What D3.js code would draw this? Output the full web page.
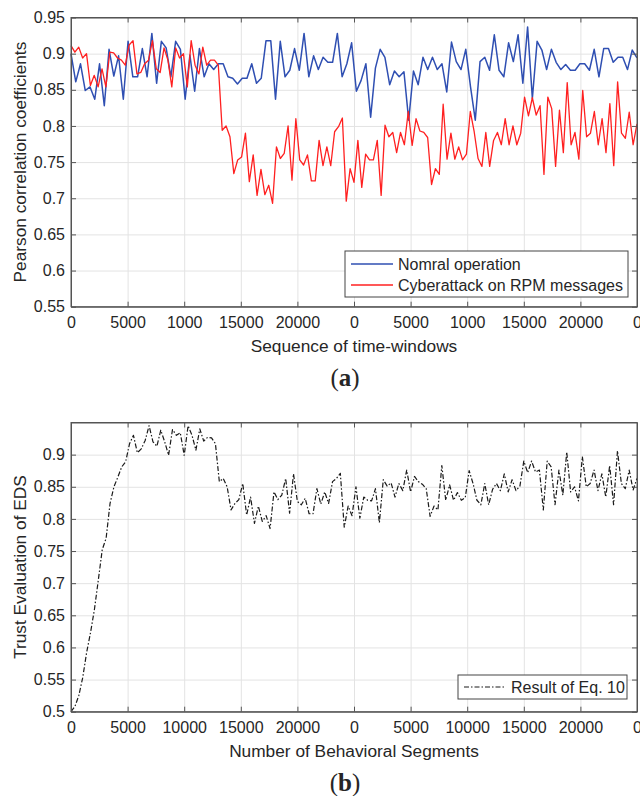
<!DOCTYPE html>
<html>
<head>
<meta charset="utf-8">
<script src="https://cdn.jsdelivr.net/npm/d3@7"></script>
<style>
  body { margin: 0; background: #fff; }
  svg { display: block; }
  text { fill: #262626; }
</style>
</head>
<body>
<svg id="chart" width="640" height="796"></svg>
<script>
// ---- data -------------------------------------------------------------
const xTickValues = [0, 5000, 10000, 15000, 20000, 25000, 30000, 35000, 40000, 45000, 50000];
const xTickLabelsA = ["0", "5000", "1000", "15000", "20000", "0", "5000", "1000", "15000", "20000", "0"];
const xTickLabelsB = ["0", "5000", "10000", "15000", "20000", "0", "5000", "10000", "15000", "20000", "0"];
const yTicksA = [0.55, 0.6, 0.65, 0.7, 0.75, 0.8, 0.85, 0.9, 0.95];
const yTicksB = [0.5, 0.55, 0.6, 0.65, 0.7, 0.75, 0.8, 0.85, 0.9];

// Pearson correlation, normal operation
const normalOperation = [
  0.900, 0.861, 0.886, 0.849, 0.854, 0.837, 0.886, 0.828, 0.906, 0.869,
  0.897, 0.837, 0.917, 0.868, 0.868, 0.907, 0.868, 0.928, 0.859, 0.917,
  0.908, 0.868, 0.917, 0.906, 0.837, 0.898, 0.848, 0.907, 0.868, 0.886,
  0.878, 0.886, 0.886, 0.868, 0.866, 0.858, 0.866, 0.866, 0.886, 0.859,
  0.866, 0.918, 0.918, 0.837, 0.917, 0.868, 0.877, 0.907, 0.877, 0.928,
  0.868, 0.897, 0.878, 0.895, 0.888, 0.888, 0.928, 0.868, 0.886, 0.915,
  0.848, 0.863, 0.886, 0.812, 0.880, 0.906, 0.895, 0.857, 0.876, 0.868,
  0.875, 0.808, 0.876, 0.857, 0.895, 0.878, 0.895, 0.878, 0.886, 0.847,
  0.916, 0.889, 0.878, 0.906, 0.854, 0.808, 0.889, 0.895, 0.877, 0.926,
  0.877, 0.868, 0.915, 0.889, 0.926, 0.859, 0.937, 0.838, 0.917, 0.905,
  0.878, 0.906, 0.888, 0.878, 0.885, 0.877, 0.877, 0.886, 0.886, 0.877,
  0.906, 0.868, 0.907, 0.907, 0.888, 0.895, 0.895, 0.878, 0.905, 0.894
];

// Pearson correlation, cyberattack on RPM messages
const cyberattackRPM = [
  0.911, 0.902, 0.909, 0.894, 0.900, 0.856, 0.870, 0.854, 0.879, 0.854,
  0.902, 0.901, 0.894, 0.891, 0.884, 0.912, 0.918, 0.872, 0.874, 0.886,
  0.891, 0.918, 0.879, 0.874, 0.908, 0.891, 0.854, 0.908, 0.894, 0.900,
  0.854, 0.918, 0.884, 0.872, 0.909, 0.884, 0.891, 0.891, 0.884, 0.794,
  0.800, 0.785, 0.734, 0.753, 0.757, 0.790, 0.723, 0.760, 0.704, 0.740,
  0.705, 0.718, 0.693, 0.771, 0.755, 0.762, 0.800, 0.725, 0.810, 0.753,
  0.746, 0.760, 0.724, 0.724, 0.780, 0.745, 0.771, 0.745, 0.792, 0.799,
  0.811, 0.696, 0.741, 0.722, 0.780, 0.715, 0.761, 0.753, 0.753, 0.780,
  0.704, 0.801, 0.785, 0.791, 0.763, 0.791, 0.774, 0.820, 0.773, 0.810,
  0.793, 0.791, 0.784, 0.719, 0.741, 0.733, 0.830, 0.754, 0.790, 0.754,
  0.771, 0.753, 0.761, 0.820, 0.792, 0.755, 0.744, 0.791, 0.744, 0.780,
  0.791, 0.774, 0.810, 0.774, 0.800, 0.774, 0.790, 0.840, 0.814, 0.839,
  0.815, 0.828, 0.733, 0.840, 0.824, 0.744, 0.822, 0.763, 0.860, 0.774,
  0.791, 0.754, 0.849, 0.785, 0.790, 0.820, 0.774, 0.810, 0.763, 0.831,
  0.745, 0.861, 0.790, 0.783, 0.819, 0.774, 0.803
];

// Trust evaluation of EDS (Eq. 10)
const trustEvaluation = [
  0.500, 0.508, 0.525, 0.553, 0.592, 0.623, 0.659, 0.705, 0.752, 0.770,
  0.824, 0.850, 0.865, 0.881, 0.889, 0.917, 0.930, 0.903, 0.909, 0.922,
  0.945, 0.920, 0.913, 0.938, 0.920, 0.899, 0.939, 0.930, 0.934, 0.899,
  0.945, 0.930, 0.907, 0.940, 0.921, 0.927, 0.926, 0.917, 0.858, 0.863,
  0.850, 0.814, 0.824, 0.830, 0.855, 0.806, 0.834, 0.793, 0.820, 0.796,
  0.805, 0.785, 0.842, 0.830, 0.837, 0.863, 0.809, 0.870, 0.827, 0.822,
  0.832, 0.808, 0.808, 0.847, 0.823, 0.842, 0.824, 0.858, 0.863, 0.871,
  0.787, 0.820, 0.805, 0.850, 0.801, 0.834, 0.829, 0.828, 0.847, 0.794,
  0.861, 0.851, 0.856, 0.834, 0.855, 0.844, 0.876, 0.842, 0.866, 0.858,
  0.854, 0.847, 0.804, 0.820, 0.814, 0.883, 0.829, 0.853, 0.829, 0.841,
  0.829, 0.833, 0.875, 0.855, 0.829, 0.822, 0.855, 0.822, 0.846, 0.855,
  0.844, 0.870, 0.842, 0.861, 0.844, 0.851, 0.890, 0.872, 0.890, 0.873,
  0.876, 0.814, 0.890, 0.881, 0.822, 0.876, 0.837, 0.904, 0.842, 0.850,
  0.828, 0.897, 0.850, 0.855, 0.876, 0.844, 0.870, 0.834, 0.883, 0.822,
  0.906, 0.855, 0.847, 0.876, 0.845, 0.863
];

// ---- drawing ----------------------------------------------------------
const svg = d3.select("#chart");
const SANS = '"Liberation Sans", Arial, Helvetica, sans-serif';
const SERIF = '"Liberation Serif", "DejaVu Serif", serif';
const LEFT = 71, RIGHT = 637;
const X_MAX = 50000;

// spread a series evenly over the sequence axis
function toPoints(values) {
  const step = X_MAX / (values.length - 1);
  return values.map((v, i) => [i * step, v]);
}

function drawPanel(opts) {
  const g = svg.append("g").style("font-family", SANS);
  const x = d3.scaleLinear().domain([0, X_MAX]).range([LEFT, RIGHT]);
  const y = d3.scaleLinear().domain(opts.yDomain).range([opts.bottom, opts.top]);
  const h = opts.bottom - opts.top;

  // grid
  g.append("g").attr("transform", `translate(0,${opts.bottom})`)
    .call(d3.axisBottom(x).tickValues(xTickValues).tickSize(-h).tickFormat(""))
    .call(s => s.select(".domain").remove())
    .selectAll("line").attr("stroke", "#e3e3e3").attr("stroke-width", 1);
  g.append("g").attr("transform", `translate(${LEFT},0)`)
    .call(d3.axisLeft(y).tickValues(opts.yTicks).tickSize(-(RIGHT - LEFT)).tickFormat(""))
    .call(s => s.select(".domain").remove())
    .selectAll("line").attr("stroke", "#e3e3e3").attr("stroke-width", 1);

  // data lines
  const line = d3.line().x(d => x(d[0])).y(d => y(d[1]));
  opts.series.forEach(s => {
    g.append("path")
      .datum(toPoints(s.values))
      .attr("fill", "none")
      .attr("stroke", s.color)
      .attr("stroke-width", s.width)
      .attr("stroke-dasharray", s.dash || null)
      .attr("stroke-linejoin", "round")
      .attr("d", line);
  });

  // axes with inward ticks
  const axisColor = "#555";
  const styleAxis = s => {
    s.attr("font-family", null).attr("font-size", null);
    s.select(".domain").attr("stroke", axisColor);
    s.selectAll(".tick line").attr("stroke", axisColor);
    s.selectAll("text").style("font-size", "16px").style("fill", "#262626")
      .style("font-family", SANS);
  };
  g.append("g").attr("transform", `translate(0,${opts.bottom})`)
    .call(d3.axisBottom(x).tickValues(xTickValues)
      .tickFormat((d, i) => opts.xLabels[i]).tickSizeInner(-5).tickSizeOuter(0).tickPadding(10))
    .call(styleAxis);
  g.append("g").attr("transform", `translate(0,${opts.top})`)
    .call(d3.axisTop(x).tickValues(xTickValues).tickFormat("").tickSizeInner(-5).tickSizeOuter(0))
    .call(styleAxis);
  g.append("g").attr("transform", `translate(${LEFT},0)`)
    .call(d3.axisLeft(y).tickValues(opts.yTicks)
      .tickFormat(d => String(+d.toFixed(2))).tickSizeInner(-5).tickSizeOuter(0).tickPadding(6))
    .call(styleAxis);
  g.append("g").attr("transform", `translate(${RIGHT},0)`)
    .call(d3.axisRight(y).tickValues(opts.yTicks).tickFormat("").tickSizeInner(-5).tickSizeOuter(0))
    .call(styleAxis);

  // frame
  g.append("rect")
    .attr("x", LEFT).attr("y", opts.top)
    .attr("width", RIGHT - LEFT).attr("height", h)
    .attr("fill", "none").attr("stroke", axisColor).attr("stroke-width", 1);

  // axis titles
  g.append("text")
    .attr("x", (LEFT + RIGHT) / 2).attr("y", opts.bottom + 45)
    .attr("text-anchor", "middle").style("font-size", "17.3px")
    .text(opts.xTitle);
  g.append("text")
    .attr("transform", `translate(26,${(opts.top + opts.bottom) / 2}) rotate(-90)`)
    .attr("text-anchor", "middle").style("font-size", "17.3px")
    .text(opts.yTitle);

  // legend
  const L = opts.legend;
  g.append("rect")
    .attr("x", L.x).attr("y", L.y).attr("width", L.w).attr("height", L.h)
    .attr("fill", "#fff").attr("stroke", "#444").attr("stroke-width", 1);
  opts.series.forEach((s, i) => {
    const cy = L.y + L.pad + i * L.row;
    g.append("line")
      .attr("x1", L.x + 6).attr("x2", L.x + 48).attr("y1", cy).attr("y2", cy)
      .attr("stroke", s.color).attr("stroke-width", s.width)
      .attr("stroke-dasharray", s.dash || null);
    g.append("text")
      .attr("x", L.x + 53).attr("y", cy).attr("dy", "0.35em")
      .style("font-size", "16px").text(s.name);
  });

  // panel caption
  const cap = g.append("text")
    .attr("x", 345).attr("y", opts.bottom + 79)
    .attr("text-anchor", "middle")
    .style("font-size", "25px").style("font-family", SERIF);
  cap.append("tspan").text("(");
  cap.append("tspan").style("font-weight", "bold").text(opts.caption);
  cap.append("tspan").text(")");
}

drawPanel({
  top: 17.5, bottom: 306.7,
  yDomain: [0.55, 0.95], yTicks: yTicksA, xLabels: xTickLabelsA,
  xTitle: "Sequence of time-windows",
  yTitle: "Pearson correlation coefficients",
  series: [
    { name: "Nomral operation", values: normalOperation, color: "#2f4fb2", width: 1.5 },
    { name: "Cyberattack on RPM messages", values: cyberattackRPM, color: "#ff2020", width: 1.3 }
  ],
  legend: { x: 345, y: 251, w: 283, h: 46, pad: 13, row: 21 },
  caption: "a"
});

drawPanel({
  top: 422.5, bottom: 711.7,
  yDomain: [0.5, 0.95], yTicks: yTicksB, xLabels: xTickLabelsB,
  xTitle: "Number of Behavioral Segments",
  yTitle: "Trust Evaluation of EDS",
  series: [
    { name: "Result of Eq. 10", values: trustEvaluation, color: "#1a1a1a", width: 1.2, dash: "5,2,1.5,2" }
  ],
  legend: { x: 458, y: 675, w: 169, h: 24, pad: 12, row: 21 },
  caption: "b"
});
</script>
</body>
</html>
